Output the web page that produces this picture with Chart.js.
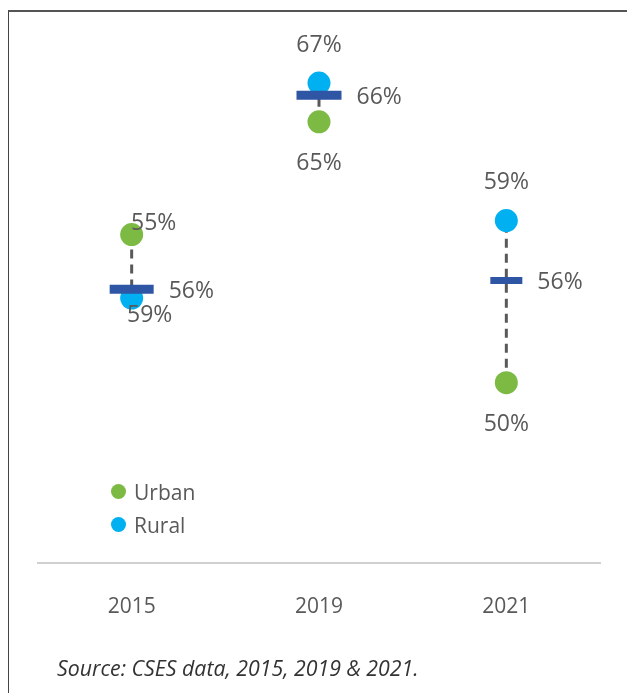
<!DOCTYPE html>
<html>
<head>
<meta charset="utf-8">
<title>Urban and rural, 2015-2021</title>
<script src="https://cdn.jsdelivr.net/npm/chart.js@4/dist/chart.umd.min.js"></script>
<style>
  html, body { margin: 0; padding: 0; background: #fff; }
  body { width: 627px; height: 693px; position: relative; overflow: hidden; font-family: "Open Sans", sans-serif; }
  #frame { position: absolute; left: 8px; top: 10px; right: -2px; bottom: -2px; border-top: 2px solid #555; border-left: 1px solid #444; }
  #wrap { position: absolute; left: 0; top: 0; width: 627px; height: 674px; }
  #legend { position: absolute; left: 111px; top: 475px; color: #595959; }
  .item { display: flex; align-items: center; height: 33px; font-size: 21px; }
  .dot { width: 15px; height: 15px; border-radius: 50%; margin-right: 8px; }
  #source { position: absolute; left: 57px; top: 654px; font-size: 21.3px; line-height: 28px; font-style: italic; color: #333; }
</style>
</head>
<body>
<div id="frame"></div>
<div id="wrap"><canvas id="chart"></canvas></div>
<div id="legend"></div>
<div id="source">Source: CSES data, 2015, 2019 &amp; 2021.</div>
<script>
// values (dot positions, in %)
const years = ['2015', '2019', '2021'];
const urban = [58.4, 64.8, 50.0];
const rural = [54.8, 67.0, 59.2];
const average = [55.3, 66.3, 55.8];

// label texts as printed on the picture
const urbanLabels = ['55%', '65%', '50%'];
const ruralLabels = ['59%', '67%', '59%'];
const averageLabels = ['56%', '66%', '56%'];

const textColor = '#595959';
const urbanColor = '#7CBA43';
const ruralColor = '#00B0F0';
const avgColor = '#2F55A5';
const avgRadius = [22, 22.5, 16];
const avgWidth = [9, 9, 7];

// dashed connector between urban and rural, one per year
const connectors = years.map((y, i) => ({
    label: 'range ' + y,
    data: [{ x: y, y: urban[i] }, { x: y, y: rural[i] }],
    borderColor: textColor,
    borderWidth: 3,
    borderDash: [9, 6],
    pointRadius: 0,
    fill: false,
    order: 3
}));

const datasets = [
    ...connectors,
    {
        label: 'Urban',
        data: urban,
        showLine: false,
        pointRadius: 11.5,
        pointBackgroundColor: urbanColor,
        pointBorderWidth: 0,
        backgroundColor: urbanColor,
        inLegend: true,
        valueLabels: urbanLabels,
        labelOffset: i => i === 0 ? { dx: 22, dy: -11 } : { dx: 0, dy: 42 },
        order: 1
    },
    {
        label: 'Rural',
        data: rural,
        showLine: false,
        pointRadius: 11.5,
        pointBackgroundColor: ruralColor,
        pointBorderWidth: 0,
        backgroundColor: ruralColor,
        inLegend: true,
        valueLabels: ruralLabels,
        labelOffset: i => i === 0 ? { dx: 18, dy: 17 } : { dx: 0, dy: -38 },
        order: 1
    },
    {
        label: 'Average',
        data: average,
        showLine: false,
        pointStyle: 'line',
        pointRadius: avgRadius,
        pointBorderWidth: avgWidth,
        pointBorderColor: avgColor,
        valueLabels: averageLabels,
        labelOffset: i => ({ dx: avgRadius[i] + 15, dy: 2, align: 'left' }),
        order: 0
    }
];

// draws the percentage next to each marker
const valueLabels = {
    id: 'valueLabels',
    afterDatasetsDraw(chart) {
        const ctx = chart.ctx;
        ctx.save();
        ctx.font = '23px "Open Sans"';
        ctx.fillStyle = textColor;
        ctx.textBaseline = 'middle';
        chart.data.datasets.forEach((ds, di) => {
            if (!ds.valueLabels) return;
            chart.getDatasetMeta(di).data.forEach((pt, i) => {
                const off = ds.labelOffset(i);
                ctx.textAlign = off.align || 'center';
                ctx.fillText(ds.valueLabels[i], pt.x + off.dx, pt.y + off.dy);
            });
        });
        ctx.restore();
    }
};

const chart = new Chart(document.getElementById('chart'), {
    type: 'line',
    data: { labels: years, datasets: datasets },
    options: {
        responsive: true,
        maintainAspectRatio: false,
        animation: false,
        events: [],
        layout: {
            autoPadding: false,
            padding: { left: 38, right: 27, top: 12, bottom: 22 }
        },
        plugins: {
            legend: { display: false },
            tooltip: { enabled: false }
        },
        scales: {
            x: {
                type: 'category',
                offset: true,
                grid: { display: false, drawTicks: false },
                border: { display: true, color: '#D0D0D0', width: 2 },
                ticks: {
                    color: textColor,
                    padding: 32,
                    font: { family: 'Open Sans', size: 21 }
                }
            },
            y: {
                display: false,
                min: 39.78,
                max: 71.03
            }
        }
    },
    plugins: [valueLabels]
});

// html legend for the two groups
const legendBox = document.getElementById('legend');
chart.data.datasets.filter(ds => ds.inLegend).forEach(ds => {
    const item = document.createElement('div');
    item.className = 'item';
    item.innerHTML = '<span class="dot" style="background:' + ds.backgroundColor + '"></span>' + ds.label;
    legendBox.appendChild(item);
});
</script>
</body>
</html>
